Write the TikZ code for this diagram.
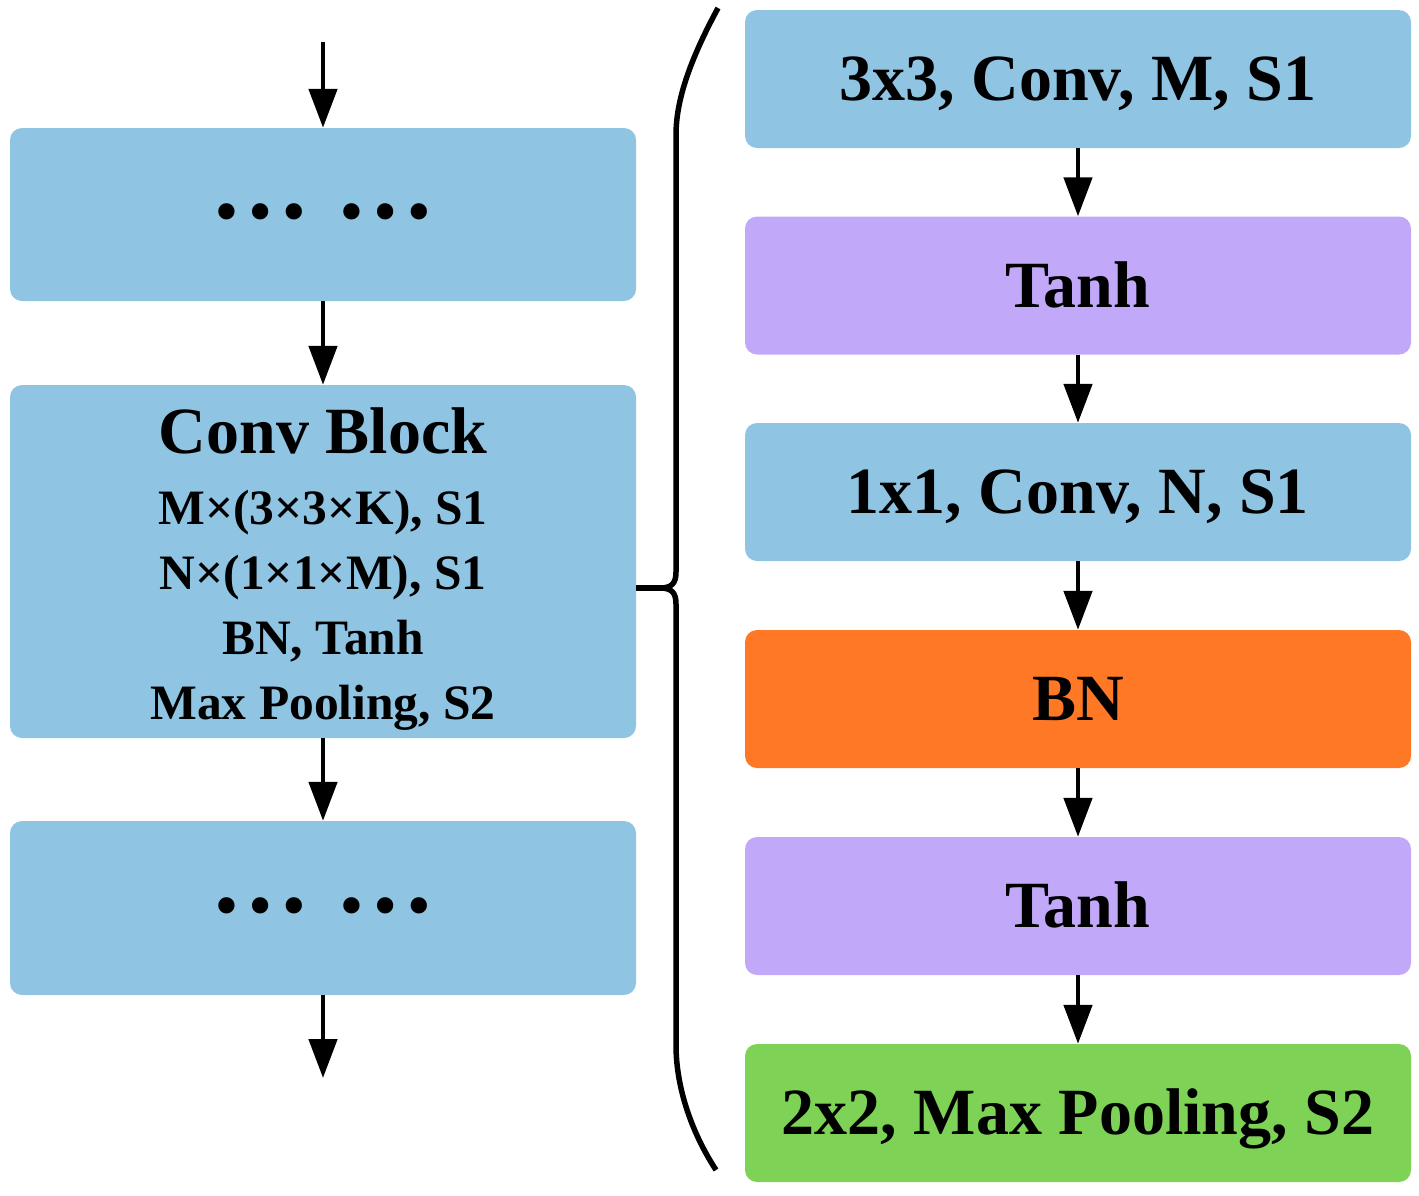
\documentclass[tikz,border=0pt]{standalone}
\usepackage{fontspec}
\setmainfont{Liberation Serif}
\usetikzlibrary{arrows.meta}
\definecolor{cblue}{HTML}{8FC4E3}
\definecolor{cpurple}{HTML}{C2A8F8}
\definecolor{corange}{HTML}{FE7826}
\definecolor{cgreen}{HTML}{7ED356}
\tikzset{
  lbox/.style={rectangle, rounded corners=12pt, inner sep=0pt, minimum width=626pt, font=\fontsize{100}{100}\selectfont\bfseries, text height=8pt, text depth=0pt},
  rbox/.style={rectangle, rounded corners=12pt, inner sep=0pt, minimum width=666pt, minimum height=138pt, font=\fontsize{66}{66}\selectfont\bfseries, text height=43.7pt, text depth=0pt},
  cbline/.style={anchor=base, inner sep=0pt, font=\fontsize{49.5}{49.5}\selectfont\bfseries},
  flow/.style={line width=4.8pt, -{Triangle[length=39pt,width=28pt]}},
  bracestyle/.style={line width=5.5pt, line join=round}
}
\begin{document}
\begin{tikzpicture}[x=1pt, y=-1pt]
\useasboundingbox (0,0) rectangle (1419,1195);
% left column
\coordinate (inTop) at (323,42);
\coordinate (outBot) at (323,1078);
\node[lbox, fill=cblue, minimum height=173pt] (L1) at (323,214.5) {\char"2026\ \char"2026};
\node[lbox, fill=cblue, minimum height=353pt] (L2) at (323,561.5) {};
\node[lbox, fill=cblue, minimum height=174pt] (L3) at (323,908) {\char"2026\ \char"2026};
\node[cbline, font=\fontsize{66}{66}\selectfont\bfseries] (t0) at (323,453) {Conv Block};
\node[cbline] (t1) at (323,524) {M×(3×3×K), S1};
\node[cbline] (t2) at (323,589) {N×(1×1×M), S1};
\node[cbline] (t3) at (323,654) {BN, Tanh};
\node[cbline] (t4) at (323,719) {Max Pooling, S2};
\draw[flow] (inTop) -- (L1.north);
\draw[flow] (L1.south) -- (L2.north);
\draw[flow] (L2.south) -- (L3.north);
\draw[flow] (L3.south) -- (outBot);
% brace
\coordinate (bmid) at (660,588);
\draw[bracestyle] (718,8) .. controls (690,60) and (676,100) .. (676,135)
  -- (676,572) .. controls (676,583) and (672,588) .. (bmid)
  .. controls (672,588) and (676,593) .. (676,604)
  -- (676,1045) .. controls (676,1085) and (690,1130) .. (716,1170);
\draw[bracestyle] (bmid -| L2.east) -- (bmid);
% right column
\node[rbox, fill=cblue] (R1) at (1078,79) {3x3, Conv, M, S1};
\node[rbox, fill=cpurple] (R2) at (1078,285.5) {Tanh};
\node[rbox, fill=cblue] (R3) at (1078,492) {1x1, Conv, N, S1};
\node[rbox, fill=corange] (R4) at (1078,699) {BN};
\node[rbox, fill=cpurple] (R5) at (1078,906) {Tanh};
\node[rbox, fill=cgreen] (R6) at (1078,1113) {2x2, Max Pooling, S2};
\draw[flow] (R1) -- (R2);
\draw[flow] (R2) -- (R3);
\draw[flow] (R3) -- (R4);
\draw[flow] (R4) -- (R5);
\draw[flow] (R5) -- (R6);
\end{tikzpicture}
\end{document}
